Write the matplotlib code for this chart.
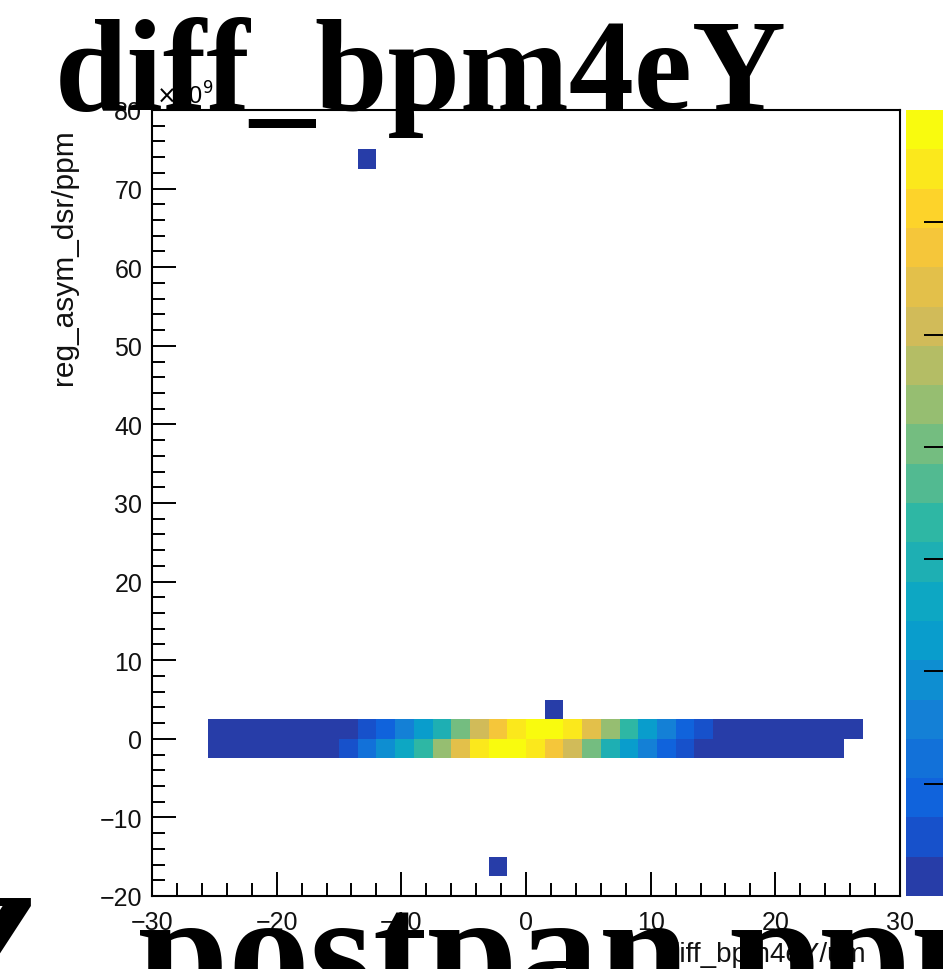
import numpy as np
import matplotlib
matplotlib.use("Agg")
import matplotlib.pyplot as plt
from matplotlib.colors import ListedColormap, BoundaryNorm
from matplotlib.ticker import MultipleLocator

# histogram binning (ROOT default 40 x 40)
x_range = (-30, 30)
y_range = (-20, 80)
n_bins = 40
bin_w = 1.5

# row y in [0, 2.5): 35 filled bins starting at x = -25.5
upper_y = 1.25
upper_x0 = -25.5
upper_counts = [12, 20, 31, 45, 68, 102, 150, 236,
                530, 840, 1560, 2240, 2980, 4010, 5050, 5780, 6470, 6850,
                6990, 6510, 5400, 4360, 3310, 2270, 1590, 870, 540,
                240, 151, 98, 66, 41, 27, 15, 8]

# row y in [-2.5, 0): 34 filled bins starting at x = -25.5
lower_y = -1.25
lower_x0 = -25.5
lower_counts = [10, 18, 29, 44, 70, 110, 190,
                470, 1230, 1900, 2620, 3330, 4380, 5420, 6450, 6870,
                6930, 6480, 5760, 5080, 4030, 3000, 2260, 1530, 810, 500,
                230, 140, 90, 60, 38, 22, 12, 6]

# isolated entries (bin centres)
outlier_x = [-12.75, 2.25, -2.25]
outlier_y = [73.75, 3.75, -16.25]
outlier_n = [1, 1, 1]

z_max = 7000
n_levels = 20
palette_ticks = [1000, 2000, 3000, 4000, 5000, 6000]

title = "diff_bpm4eY"
next_title_a = "Z"
next_title_b = "postpan ppm"
x_title = "diff_bpm4eY/um"
y_title = "reg_asym_dsr/ppm"

# ROOT kBird palette, 255 colours, sampled like COLZ with 20 contours
stops = [0.0, 0.125, 0.25, 0.375, 0.5, 0.625, 0.75, 0.875, 1.0]
red = [0.2082, 0.0592, 0.0780, 0.0232, 0.1802, 0.5301, 0.8186, 0.9956, 0.9764]
green = [0.1664, 0.3599, 0.5041, 0.6419, 0.7178, 0.7492, 0.7328, 0.7862, 0.9832]
blue = [0.5293, 0.8684, 0.8385, 0.7914, 0.6425, 0.4662, 0.3499, 0.1968, 0.0539]
t = [int((i + 0.99) * 255 / n_levels) / 254 for i in range(n_levels)]
cols = np.column_stack([np.interp(t, stops, red), np.interp(t, stops, green), np.interp(t, stops, blue)])
cmap = ListedColormap(cols)
norm = BoundaryNorm(np.linspace(0, z_max, n_levels + 1), n_levels)

# fill the histogram
xs = [upper_x0 + bin_w * (i + 0.5) for i in range(len(upper_counts))]
ys = [upper_y] * len(upper_counts)
ws = list(upper_counts)
xs += [lower_x0 + bin_w * (i + 0.5) for i in range(len(lower_counts))]
ys += [lower_y] * len(lower_counts)
ws += list(lower_counts)
xs += outlier_x
ys += outlier_y
ws += outlier_n

x_edges = np.linspace(x_range[0], x_range[1], n_bins + 1)
y_edges = np.linspace(y_range[0], y_range[1], n_bins + 1)
h, _, _ = np.histogram2d(xs, ys, bins=[x_edges, y_edges], weights=ws)
h = np.ma.masked_equal(h, 0)

W, H = 943, 970
fig = plt.figure(figsize=(W / 100, H / 100), dpi=100)
ax = fig.add_axes([152 / W, 73 / H, 748 / W, 786 / H])
mesh = ax.pcolormesh(x_edges, y_edges, h.T, cmap=cmap, norm=norm)
ax.set_xlim(x_range)
ax.set_ylim(y_range)

sans = "Liberation Sans"
for s in ax.spines.values():
    s.set_linewidth(1.5)
ax.xaxis.set_major_locator(MultipleLocator(10))
ax.xaxis.set_minor_locator(MultipleLocator(2))
ax.yaxis.set_major_locator(MultipleLocator(10))
ax.yaxis.set_minor_locator(MultipleLocator(2))
ax.tick_params(which="both", direction="in", width=1.4, top=False, right=False)
ax.tick_params(which="major", length=17)
ax.tick_params(which="minor", length=9.5)
ax.tick_params(axis="x", pad=10, labelsize=18)
ax.tick_params(axis="y", pad=7, labelsize=18)
for lab in ax.get_xticklabels() + ax.get_yticklabels():
    lab.set_fontfamily(sans)
    lab.set_color("#111111")

ax.set_xlabel(x_title, loc="right", fontsize=20, family=sans, color="#111111")
ax.xaxis.set_label_coords(0.955, -0.057)
ax.set_ylabel(y_title, loc="top", fontsize=21.5, family=sans, color="#111111")
ax.yaxis.set_label_coords(-0.099, 0.977)

# palette on the right, partly outside the canvas
cax = fig.add_axes([906 / W, 73 / H, 42 / W, 786 / H])
cb = fig.colorbar(mesh, cax=cax)
cb.outline.set_visible(False)
cb.set_ticks(palette_ticks)
cax.tick_params(direction="in", length=17, width=1.4, labelright=False, right=True)
cax.minorticks_off()

# exponent label behind the title
fig.text(156 / W, 1 - 105 / H, r"$\times$10$^{9}$", fontsize=17, family=sans, ha="left", va="baseline")

serif = "Liberation Serif"
fig.text(55 / W, 1 - 110 / H, title, fontsize=94, family=serif, weight="bold", ha="left", va="baseline")
fig.text(44 / W, 1 - 1005 / H, next_title_a, fontsize=117, family=serif, weight="bold", ha="right", va="baseline")
fig.text(138 / W, 1 - 1005 / H, next_title_b, fontsize=117, family=serif, weight="bold", ha="left", va="baseline")

fig.savefig("out.png", dpi=100)
